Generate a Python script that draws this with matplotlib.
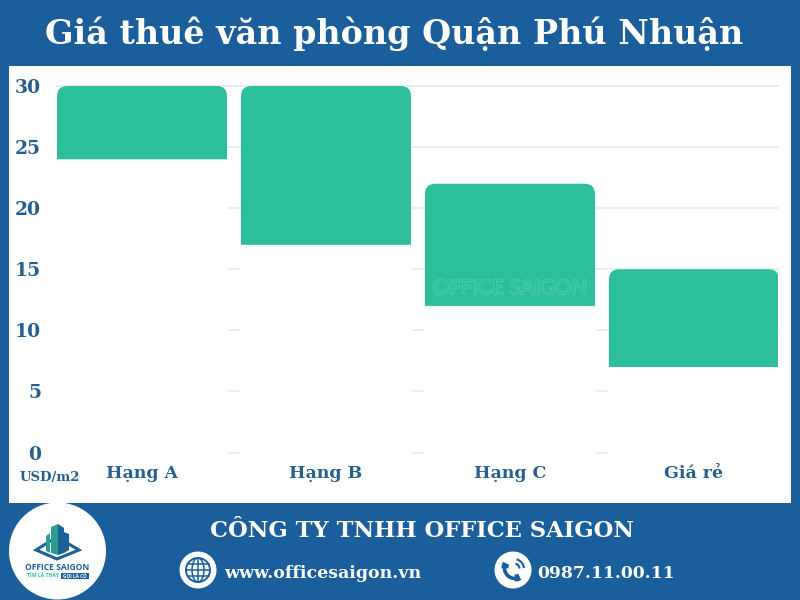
import numpy as np
import matplotlib
matplotlib.use('Agg')
import matplotlib.pyplot as plt
import matplotlib.patheffects as pe
from matplotlib.patches import Circle, Ellipse, PathPatch, Polygon, Rectangle, Arc
from matplotlib.path import Path

categories = ['Hạng A', 'Hạng B', 'Hạng C', 'Giá rẻ']
price_low = [24, 17, 12, 7]
price_high = [30, 30, 22, 15]
y_ticks = [0, 5, 10, 15, 20, 25, 30]

BLUE = '#1a5e9b'
TEXT_BLUE = '#265f8e'
GREEN = '#2dbf9c'
GRID = '#e3edf1'
SERIF = 'DejaVu Serif'


def rounded_top(x0, x1, y0, y1, rx=0.055, ry=0.85):
    # bar with only the two top corners rounded
    verts = [(x0, y0), (x0, y1 - ry), (x0, y1), (x0 + rx, y1),
             (x1 - rx, y1), (x1, y1), (x1, y1 - ry), (x1, y0), (x0, y0)]
    codes = [Path.MOVETO, Path.LINETO, Path.CURVE3, Path.CURVE3,
             Path.LINETO, Path.CURVE3, Path.CURVE3, Path.LINETO, Path.CLOSEPOLY]
    return Path(verts, codes)


fig = plt.figure(figsize=(8, 6), dpi=100, facecolor=BLUE)

# pixel space layer for the panel and the footer
deco = fig.add_axes([0, 0, 1, 1], zorder=1)
deco.set_xlim(0, 800)
deco.set_ylim(600, 0)
deco.axis('off')
deco.add_patch(Rectangle((9, 66), 782, 437, fc='white', ec='none'))

deco.text(394, 33.5, 'Giá thuê văn phòng Quận Phú Nhuận', color='white', family=SERIF,
          weight='bold', fontsize=24, ha='center', va='center')
deco.text(422, 531, 'CÔNG TY TNHH OFFICE SAIGON', color='white', family=SERIF,
          weight='bold', fontsize=16.3, ha='center', va='center')
deco.text(224, 573, 'www.officesaigon.vn', color='white', family=SERIF,
          weight='bold', fontsize=12.55, ha='left', va='center')
deco.text(537, 573, '0987.11.00.11', color='white', family=SERIF,
          weight='bold', fontsize=12.45, ha='left', va='center')
deco.text(49.5, 477, 'USD/m2', color=TEXT_BLUE, family=SERIF,
          weight='bold', fontsize=9.5, ha='center', va='center')

# logo
deco.add_patch(Circle((57.5, 551), 48.5, fc='white', ec='none'))
deco.add_patch(Polygon([[36, 550], [57, 537], [79, 550], [57, 559]], closed=True,
                       fc='none', ec='#1d5f97', lw=2.2))
deco.add_patch(Polygon([[46, 536], [50, 533], [50, 553], [46, 551]], closed=True, fc='#2a9d8f'))
deco.add_patch(Polygon([[51, 527], [58, 524], [58, 555], [51, 553]], closed=True, fc='#2a9d8f'))
deco.add_patch(Polygon([[58, 524], [64, 528], [64, 553], [58, 555]], closed=True, fc='#1d5f97'))
deco.add_patch(Polygon([[64, 532], [69, 534], [69, 550], [64, 553]], closed=True, fc='#1d5f97'))
deco.text(57.5, 567, 'OFFICE SAIGON', color='#1d5f97', family='Open Sans', weight='bold',
          fontsize=6.1, ha='center', va='center')
deco.text(43, 575.5, 'TÌM LÀ THẤY', color='#2dbf9c', family='Open Sans', weight='bold',
          fontsize=3.6, ha='center', va='center')
deco.add_patch(Rectangle((61, 572.5), 28, 6, fc='#1d5f97', ec='none'))
deco.text(75, 575.5, 'GỌI LÀ CÓ', color='white', family='Open Sans', weight='bold',
          fontsize=3.4, ha='center', va='center')

# globe icon
gx, gy = 198, 570
deco.add_patch(Circle((gx, gy), 18.5, fc='white', ec='none'))
deco.add_patch(Circle((gx, gy), 12, fc='none', ec=BLUE, lw=1.4))
deco.add_patch(Ellipse((gx, gy), 12, 24, fc='none', ec=BLUE, lw=1.1))
deco.plot([gx, gx], [gy - 12, gy + 12], color=BLUE, lw=1.1)
deco.plot([gx - 12, gx + 12], [gy, gy], color=BLUE, lw=1.1)
deco.plot([gx - 10.5, gx + 10.5], [gy - 6, gy - 6], color=BLUE, lw=1.1)
deco.plot([gx - 10.5, gx + 10.5], [gy + 6, gy + 6], color=BLUE, lw=1.1)

# phone icon
px, py = 513, 570
deco.add_patch(Circle((px, py), 18.5, fc='white', ec='none'))
deco.add_patch(Arc((px + 2, py - 2), 21, 21, theta1=75, theta2=195, color=BLUE, lw=2.6))
deco.add_patch(Arc((px + 2, py - 2), 20, 20, theta1=62, theta2=92, color=BLUE, lw=5))
deco.add_patch(Arc((px + 2, py - 2), 20, 20, theta1=178, theta2=208, color=BLUE, lw=5))
deco.add_patch(Arc((px + 1, py - 1), 11, 11, theta1=-75, theta2=-5, color=BLUE, lw=1.5))
deco.add_patch(Arc((px + 1, py - 1), 20, 20, theta1=-75, theta2=-5, color=BLUE, lw=1.5))

# chart layer, axes edges line up with the outer bar edges
ax = fig.add_axes([57 / 800, (600 - 452.5) / 600, 721 / 800, 366.5 / 600], zorder=2)
ax.patch.set_alpha(0)
x = np.arange(len(categories))
bar_w = 0.924

ax.set_xlim(-0.462, 3.457)
ax.set_ylim(0, 30)
ax.yaxis.grid(True, color=GRID, lw=1.2, zorder=0)
ax.set_axisbelow(True)
for gl in ax.get_ygridlines():
    gl.set_clip_on(False)

# white base hides the grid under each floating bar
ax.bar(x, price_low, width=bar_w, color='white', edgecolor='white', lw=1.5,
       zorder=1, clip_on=False)
for xi, lo, hi in zip(x, price_low, price_high):
    ax.add_patch(PathPatch(rounded_top(xi - bar_w / 2, xi + bar_w / 2, lo, hi),
                           fc=GREEN, ec='none', zorder=2))

ax.text(2.0, 13.45, 'OFFICE SAIGON', color=GREEN, family='Lato', fontsize=14.8, ha='center',
        va='center', zorder=3,
        path_effects=[pe.Stroke(linewidth=0.8, foreground='#5fd2b8'), pe.Normal()])

ax.set_xticks(x, categories)
ax.set_yticks(y_ticks)
ax.tick_params(length=0)
ax.tick_params(axis='x', pad=9, labelsize=12.5, labelcolor=TEXT_BLUE)
ax.tick_params(axis='y', pad=11.5, labelsize=13.5, labelcolor=TEXT_BLUE)
for lab in ax.get_xticklabels() + ax.get_yticklabels():
    lab.set_family(SERIF)
    lab.set_weight('bold')
for sp in ax.spines.values():
    sp.set_visible(False)

fig.savefig('out.png', dpi=100, facecolor=BLUE)
